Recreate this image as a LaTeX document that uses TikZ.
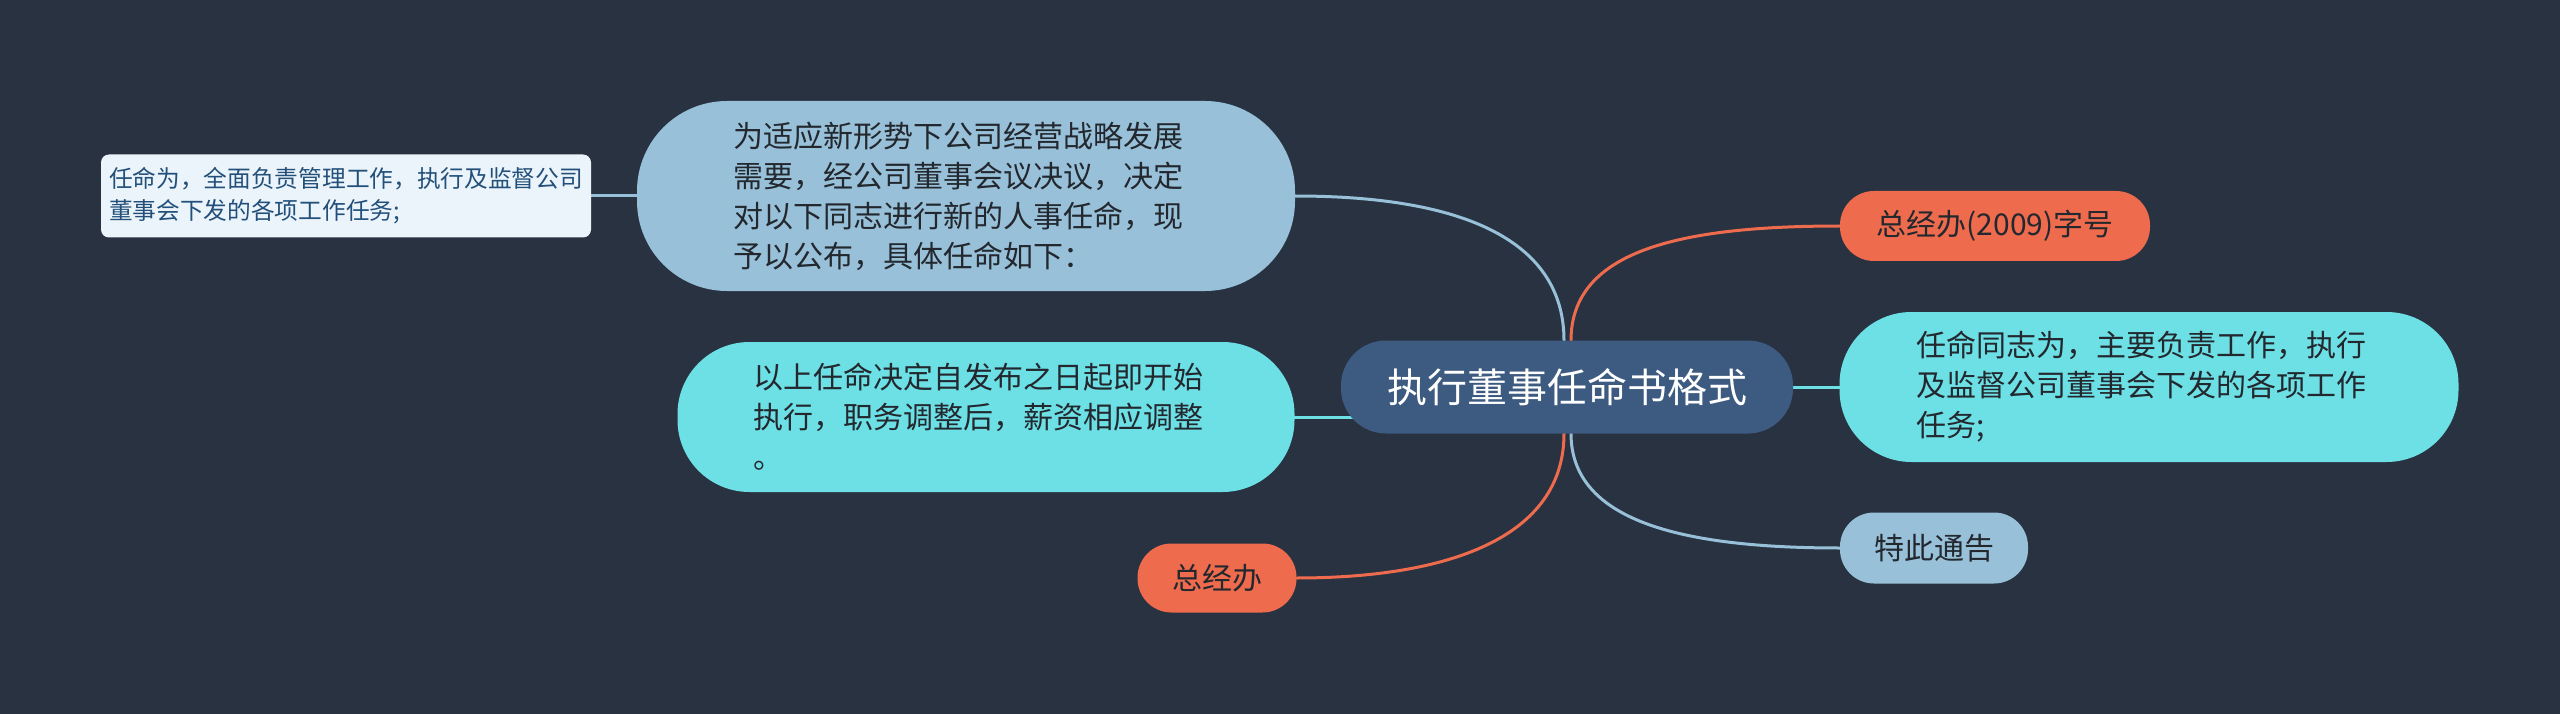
\documentclass[tikz,border=0pt]{standalone}
\usepackage{fontspec}
\setmainfont{Noto Sans CJK SC}
\usetikzlibrary{backgrounds}
\pgfdeclarelayer{edges}
\pgfsetlayers{background,edges,main}
\definecolor{bgc}{HTML}{293241}
\definecolor{mainc}{HTML}{3D5A80}
\definecolor{lblue}{HTML}{98C1D9}
\definecolor{cyanc}{HTML}{6DE0E5}
\definecolor{orangec}{HTML}{EE6C4D}
\definecolor{paper}{HTML}{EBF4FA}
\definecolor{darktext}{HTML}{23272E}
\definecolor{bluetext}{HTML}{23507A}
\tikzset{
  nodebase/.style={draw=none, inner sep=0pt, outer sep=0pt, align=left, text=darktext},
  pillbig/.style={nodebase, font=\fontsize{30}{40}\selectfont, text width=466pt},
  pillsmall/.style={nodebase, font=\fontsize{30}{39}\selectfont, align=center},
  link/.style={line width=3pt, line cap=round},
}
\begin{document}
\begin{tikzpicture}[x=1pt,y=-1pt]
\begin{pgfonlayer}{background}
  \fill[bgc] (0,0) rectangle (2560,714);
\end{pgfonlayer}
\useasboundingbox (0,0) rectangle (2560,714);

% central
\node[nodebase, fill=mainc, rounded corners=45pt, minimum width=452pt, minimum height=93pt,
      font=\fontsize{40}{48}\selectfont, text=white, align=center] (c) at (1567,387) {执行董事任命书格式};

% top-left big node
\node[pillbig, fill=lblue, rounded corners=90pt, minimum width=658pt, minimum height=190pt] (big) at (966,196)
  {为适应新形势下公司经营战略发展\\需要，经公司董事会议决议，决定\\对以下同志进行新的人事任命，现\\予以公布，具体任命如下：};

% far-left small box
\node[nodebase, fill=paper, rounded corners=8pt, minimum width=490pt, minimum height=83pt,
      text width=474pt, text=bluetext, font=\fontsize{23.7}{32}\selectfont] (small) at (346,196)
  {任命为，全面负责管理工作，执行及监督公司\\董事会下发的各项工作任务;};

% middle-left cyan node
\node[pillbig, fill=cyanc, rounded corners=72pt, minimum width=617pt, minimum height=150pt] (cl) at (986,417)
  {以上任命决定自发布之日起即开始\\执行，职务调整后，薪资相应调整\\。};

% bottom-left orange
\node[pillsmall, fill=orangec, rounded corners=34pt, minimum width=159pt, minimum height=69pt] (o2) at (1217,578) {总经办};

% right orange
\node[pillsmall, fill=orangec, rounded corners=34pt, minimum width=310pt, minimum height=70pt] (o1) at (1995,226) {总经办(2009)字号};

% right cyan
\node[pillbig, fill=cyanc, rounded corners=72pt, minimum width=619pt, minimum height=150pt] (cr) at (2149,387)
  {任命同志为，主要负责工作，执行\\及监督公司董事会下发的各项工作\\任务;};

% right light blue
\node[pillsmall, fill=lblue, rounded corners=34pt, minimum width=188pt, minimum height=71pt] (t) at (1934,548) {特此通告};

\begin{pgfonlayer}{edges}
  \draw[link, lblue] ([xshift=-3pt]c.north) .. controls +(0,-91) and +(185,0) .. (big.east);
  \draw[link, orangec] ([xshift=4pt]c.north) .. controls +(0,-90) and +(-160,0) .. (o1.west);
  \draw[link, lblue] ([xshift=4pt]c.south) .. controls +(0,87) and +(-160,0) .. (t.west);
  \draw[link, orangec] ([xshift=-3pt]c.south) .. controls +(0,105) and +(150,0) .. (o2.east);
  \draw[link, lblue] (small.east) -- (big.west);
  \draw[link, cyanc] (cl.east) -- ([xshift=30pt]cl.east -| c.west);
  \draw[link, cyanc] (c.east) -- (cr.west);
\end{pgfonlayer}
\end{tikzpicture}
\end{document}
